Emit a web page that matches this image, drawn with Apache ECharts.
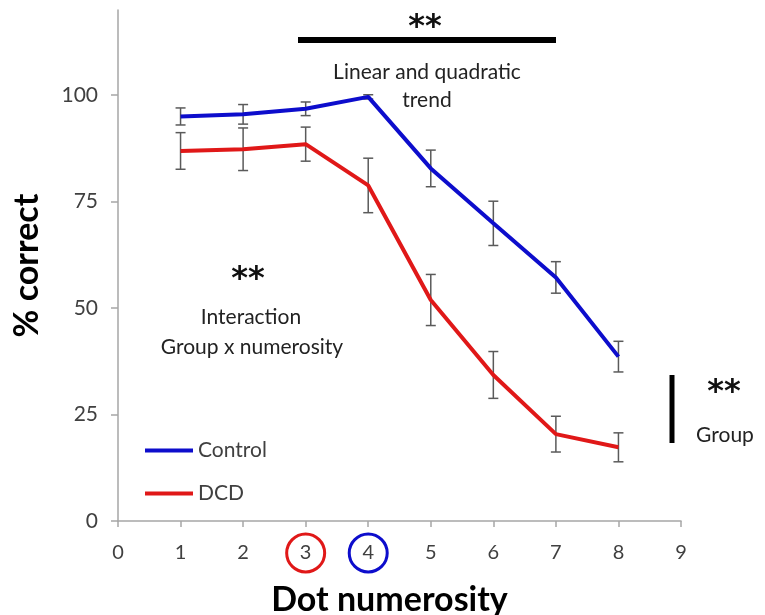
<!DOCTYPE html>
<html>
<head>
<meta charset="utf-8">
<script src="https://cdn.jsdelivr.net/npm/echarts@6/dist/echarts.min.js"></script>
<style>
html,body{margin:0;padding:0;background:#fff;}
#chart{width:765px;height:615px;}
</style>
</head>
<body>
<div id="chart"></div>
<script>
// ---- data ----
const numerosity = [1, 2, 3, 4, 5, 6, 7, 8];
const controlMean = [95.0, 95.5, 96.8, 99.6, 82.8, 69.9, 57.2, 38.6];
const controlErr  = [2.0, 2.3, 1.6, 0.5, 4.3, 5.2, 3.7, 3.6];
const dcdMean     = [86.9, 87.3, 88.5, 78.8, 51.9, 34.3, 20.4, 17.3];
const dcdErr      = [4.3, 5.0, 4.0, 6.4, 6.0, 5.5, 4.2, 3.4];
const xTicks = [0, 1, 2, 3, 4, 5, 6, 7, 8, 9];
const yTicks = [0, 25, 50, 75, 100];

const BLUE = '#0d0dcc';
const RED = '#e01818';
const FONT = 'Lato, "Open Sans", sans-serif';
const STARFONT = 'bold 32px "DejaVu Sans", sans-serif';

function pairs(xs, ys) { return xs.map((x, i) => [x, ys[i]]); }
function errData(xs, m, e) { return xs.map((x, i) => [x, m[i] - e[i], m[i] + e[i]]); }

function errRender(params, api) {
  const x = api.value(0);
  const lo = api.coord([x, api.value(1)]);
  const hi = api.coord([x, api.value(2)]);
  const w = 5;
  const st = { stroke: '#5a5a5a', lineWidth: 1.5 };
  return {
    type: 'group',
    children: [
      { type: 'line', shape: { x1: lo[0], y1: lo[1], x2: hi[0], y2: hi[1] }, style: st },
      { type: 'line', shape: { x1: lo[0] - w, y1: lo[1], x2: lo[0] + w, y2: lo[1] }, style: st },
      { type: 'line', shape: { x1: hi[0] - w, y1: hi[1], x2: hi[0] + w, y2: hi[1] }, style: st }
    ]
  };
}

const chart = echarts.init(document.getElementById('chart'));
const labelBox = { width: 38, height: 38, lineHeight: 38, align: 'center', verticalAlign: 'middle', fontSize: 20, fontFamily: FONT, color: '#404040' };

chart.setOption({
  animation: false,
  backgroundColor: '#fff',
  grid: { left: 118, right: 84, top: 10, bottom: 94, containLabel: false, outerBoundsMode: 'none' },
  xAxis: {
    type: 'value', min: 0, max: 9, interval: 1,
    name: 'Dot numerosity', nameLocation: 'middle', nameGap: 62,
    nameTextStyle: { fontFamily: FONT, fontWeight: 'bold', fontSize: 34, color: '#000', padding: [0, 20, 0, 0] },
    axisLine: { show: true, lineStyle: { color: '#a6a6a6', width: 1.5 } },
    axisTick: { show: true, length: 6, lineStyle: { color: '#a6a6a6', width: 1.5 } },
    splitLine: { show: false },
    axisLabel: {
      margin: 13,
      customValues: xTicks,
      formatter: function (v) {
        if (v === 3) return '{r|3}';
        if (v === 4) return '{b|4}';
        return '{n|' + v + '}';
      },
      rich: {
        n: Object.assign({}, labelBox),
        r: Object.assign({}, labelBox, { borderColor: RED, borderWidth: 3, borderRadius: 19 }),
        b: Object.assign({}, labelBox, { borderColor: BLUE, borderWidth: 3, borderRadius: 19 })
      }
    }
  },
  yAxis: {
    type: 'value', min: 0, max: 120, interval: 25,
    name: '% correct', nameLocation: 'middle', nameGap: 74, nameRotate: 90,
    nameTextStyle: { fontFamily: FONT, fontWeight: 'bold', fontSize: 34, color: '#000' },
    axisLine: { show: true, lineStyle: { color: '#a6a6a6', width: 1.5 } },
    axisTick: { show: true, length: 7, customValues: yTicks, lineStyle: { color: '#a6a6a6', width: 1.5 } },
    splitLine: { show: false },
    axisLabel: {
      customValues: yTicks,
      margin: 20, fontSize: 21, fontFamily: FONT, color: '#404040',
      formatter: function (v) { return yTicks.indexOf(v) >= 0 ? String(v) : ''; }
    }
  },
  legend: {
    orient: 'vertical', left: 145, top: 440, itemGap: 22, padding: 0,
    itemWidth: 48, itemHeight: 4, icon: 'rect',
    textStyle: { fontFamily: FONT, fontSize: 21, color: '#404040' },
    data: ['Control', 'DCD']
  },
  series: [
    { type: 'custom', name: 'Control err', renderItem: errRender, data: errData(numerosity, controlMean, controlErr), z: 1, encode: { x: 0, y: [1, 2] } },
    { type: 'custom', name: 'DCD err', renderItem: errRender, data: errData(numerosity, dcdMean, dcdErr), z: 1, encode: { x: 0, y: [1, 2] } },
    { type: 'line', name: 'Control', data: pairs(numerosity, controlMean), showSymbol: false, symbol: 'none', lineStyle: { color: BLUE, width: 4 }, itemStyle: { color: BLUE }, z: 3 },
    { type: 'line', name: 'DCD', data: pairs(numerosity, dcdMean), showSymbol: false, symbol: 'none', lineStyle: { color: RED, width: 4 }, itemStyle: { color: RED }, z: 3 }
  ],
  graphic: [
    { type: 'line', shape: { x1: 298, y1: 40, x2: 556, y2: 40 }, style: { stroke: '#000', lineWidth: 6 } },
    { type: 'text', x: 425, y: 28, style: { text: '**', font: STARFONT, fill: '#111', align: 'center', verticalAlign: 'middle' } },
    { type: 'text', x: 427, y: 72, style: { text: 'Linear and quadratic', font: '21px ' + FONT, fill: '#222', align: 'center', verticalAlign: 'middle' } },
    { type: 'text', x: 427, y: 100, style: { text: 'trend', font: '21px ' + FONT, fill: '#222', align: 'center', verticalAlign: 'middle' } },
    { type: 'text', x: 248, y: 280, style: { text: '**', font: STARFONT, fill: '#111', align: 'center', verticalAlign: 'middle' } },
    { type: 'text', x: 251, y: 317, style: { text: 'Interaction', font: '21px ' + FONT, fill: '#222', align: 'center', verticalAlign: 'middle' } },
    { type: 'text', x: 252, y: 347, style: { text: 'Group x numerosity', font: '21px ' + FONT, fill: '#222', align: 'center', verticalAlign: 'middle' } },
    { type: 'line', shape: { x1: 672, y1: 375, x2: 672, y2: 443 }, style: { stroke: '#000', lineWidth: 5 } },
    { type: 'text', x: 724, y: 393, style: { text: '**', font: STARFONT, fill: '#111', align: 'center', verticalAlign: 'middle' } },
    { type: 'text', x: 725, y: 435, style: { text: 'Group', font: '21px ' + FONT, fill: '#222', align: 'center', verticalAlign: 'middle' } }
  ]
});
</script>
</body>
</html>
